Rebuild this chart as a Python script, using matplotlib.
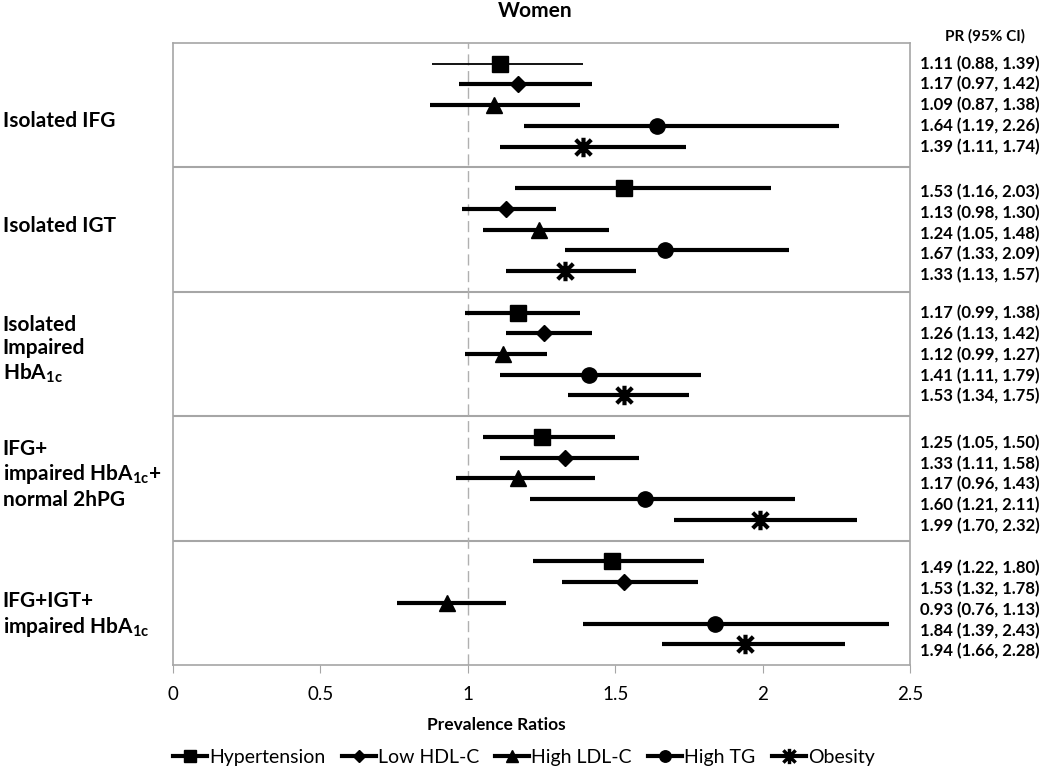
import numpy as np
import matplotlib
matplotlib.use('Agg')
import matplotlib.pyplot as plt
from matplotlib.lines import Line2D
from matplotlib.path import Path

plt.rcParams['font.family'] = ['Lato', 'DejaVu Sans']
plt.rcParams['mathtext.fontset'] = 'custom'
plt.rcParams['mathtext.rm'] = 'Lato:bold'
plt.rcParams['mathtext.default'] = 'rm'

groups = ['Isolated IFG', 'Isolated IGT', 'Isolated\nImpaired\nHbA$_{1c}$',
          'IFG+\nimpaired HbA$_{1c}$+\nnormal 2hPG', 'IFG+IGT+\nimpaired HbA$_{1c}$']
outcomes = ['Hypertension', 'Low HDL-C', 'High LDL-C', 'High TG', 'Obesity']

# prevalence ratios, rows = outcome, cols = group
pr = [[1.11, 1.53, 1.17, 1.25, 1.49],
      [1.17, 1.13, 1.26, 1.33, 1.53],
      [1.09, 1.24, 1.12, 1.17, 0.93],
      [1.64, 1.67, 1.41, 1.60, 1.84],
      [1.39, 1.33, 1.53, 1.99, 1.94]]
lo = [[0.88, 1.16, 0.99, 1.05, 1.22],
      [0.97, 0.98, 1.13, 1.11, 1.32],
      [0.87, 1.05, 0.99, 0.96, 0.76],
      [1.19, 1.33, 1.11, 1.21, 1.39],
      [1.11, 1.13, 1.34, 1.70, 1.66]]
hi = [[1.39, 2.03, 1.38, 1.50, 1.80],
      [1.42, 1.30, 1.42, 1.58, 1.78],
      [1.38, 1.48, 1.27, 1.43, 1.13],
      [2.26, 2.09, 1.79, 2.11, 2.43],
      [1.74, 1.57, 1.75, 2.32, 2.28]]
xticks = [0, 0.5, 1, 1.5, 2, 2.5]

# excel style star: X plus vertical bar
star = Path([(-1, -1), (1, 1), (-1, 1), (1, -1), (0, -1.25), (0, 1.25)],
            [Path.MOVETO, Path.LINETO, Path.MOVETO, Path.LINETO, Path.MOVETO, Path.LINETO])
markers = ['s', 'D', '^', 'o', star]
msizes = [12, 8, 11, 11, 14]
label_shift = [0.0, 0.2, 0.05, 0.3, 0.35]
group_label_shift = [0.75, -0.15, -0.2, -0.2, 0.6]
gray = '#a6a6a6'

fig = plt.figure(figsize=(10.5, 7.7), dpi=100)
ax = fig.add_axes([0.1648, 0.1364, 0.7019, 0.8078])

ng = len(groups)
for j in range(len(outcomes)):
    y = np.arange(ng) * 6 + j + 1
    lws = np.full(ng, 3.0)
    if j == 0:
        lws[0] = 1.3
    ax.hlines(y, lo[j], hi[j], colors='black', linewidths=lws, zorder=3)
    if j == 4:
        ax.plot(pr[j], y, linestyle='none', marker=star, markersize=msizes[j],
                markerfacecolor='none', markeredgecolor='black', markeredgewidth=3, zorder=4)
    else:
        ax.plot(pr[j], y, linestyle='none', marker=markers[j], markersize=msizes[j],
                color='black', markeredgewidth=1, zorder=4)
    for g in range(ng):
        ax.text(1.014, y[g] + label_shift[g],
                '%.2f (%.2f, %.2f)' % (pr[j][g], lo[j][g], hi[j][g]),
                transform=ax.get_yaxis_transform(), ha='left', va='center',
                fontsize=12, fontweight='bold', clip_on=False)

for g in range(ng):
    ax.text(-0.231, g * 6 + 3 + group_label_shift[g], groups[g],
            transform=ax.get_yaxis_transform(), ha='left', va='center',
            fontsize=15, fontweight='bold', linespacing=1.2)

ax.text(1.102, -0.3, 'PR (95% CI)', transform=ax.get_yaxis_transform(),
        ha='center', va='center', fontsize=11, fontweight='bold', clip_on=False)

for s in range(1, ng):
    ax.axhline(s * 6, color=gray, lw=1.5, zorder=1)
ax.axvline(1, color='#b0b0b0', lw=1, linestyle=(0, (8, 4)), zorder=1)

ax.set_xlim(0, 2.5)
ax.set_ylim(30, 0)
ax.set_yticks([])
ax.set_xticks(xticks)
ax.set_xticklabels([('%g' % t) for t in xticks], fontsize=13.5)
ax.tick_params(axis='x', direction='out', length=6, color=gray, pad=9)
for sp in ax.spines.values():
    sp.set_color(gray)
    sp.set_linewidth(1.2)

fig.text(0.51, 0.986, 'Women', ha='center', va='center', fontsize=15, fontweight='bold')
fig.text(0.473, 0.058, 'Prevalence Ratios', ha='center', va='center', fontsize=12.5, fontweight='bold')

handles = []
for j in range(len(outcomes)):
    if j == 4:
        handles.append(Line2D([], [], color='black', lw=3, marker=star, markersize=11,
                              markerfacecolor='none', markeredgecolor='black', markeredgewidth=2.5))
    else:
        handles.append(Line2D([], [], color='black', lw=3, marker=markers[j],
                              markersize=msizes[j] * 0.75, markeredgewidth=1))
fig.legend(handles, outcomes, loc='center', bbox_to_anchor=(0.499, 0.016), ncol=5,
           frameon=False, fontsize=14, handlelength=1.75, handletextpad=0.1,
           columnspacing=0.85, borderpad=0)

fig.savefig('out.png', dpi=100)
